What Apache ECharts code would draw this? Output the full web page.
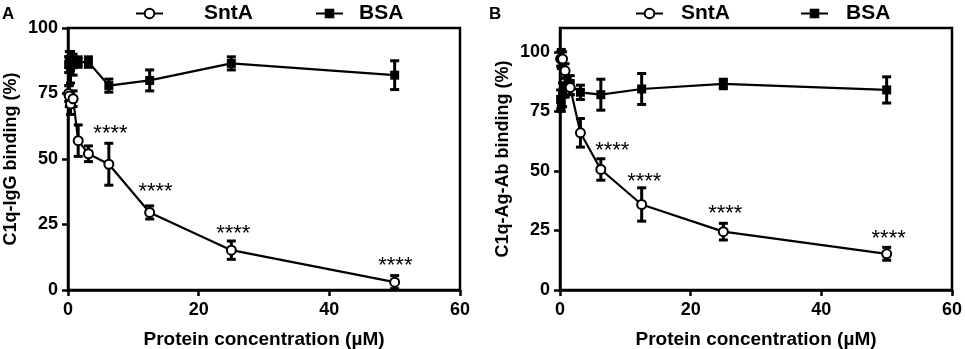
<!DOCTYPE html>
<html><head><meta charset="utf-8">
<script src="https://cdn.jsdelivr.net/npm/echarts@6/dist/echarts.min.js"></script>
<style>html,body{margin:0;padding:0;background:#fff}#c{width:965px;height:349px}</style>
</head><body><div id="c"></div>
<script>
// ---- data ----
const conc = [0.1, 0.2, 0.39, 0.78, 1.56, 3.125, 6.25, 12.5, 25, 50];
const aSntA = [75, 74, 71, 73, 57, 52, 48, 29.6, 15.2, 3];
const aSntAErr = [3, 4, 4, 3, 6, 3, 8, 2.5, 3.5, 2.5];
const aBSA = [86, 88, 85, 86, 87, 87, 78, 80, 86.5, 82];
const aBSAErr = [3, 3, 6, 4, 2, 2, 2.5, 4, 2.5, 5.5];
const bSntA = [97, 97, 97, 92, 85, 66, 50.6, 35.9, 24.5, 15.2];
const bSntAErr = [3, 4, 3, 3, 3, 6, 4.5, 7, 3.5, 2.7];
const bBSA = [80, 78, 82, 85, 86, 83, 82, 84.4, 86.5, 84];
const bBSAErr = [4, 3, 5, 4, 4, 3, 6.5, 6.5, 2, 5.5];
const aStarX = [6.5, 13.4, 25.3, 50.1];
const aStarY = [59.5, 37.4, 21.4, 9.2];
const bStarX = [8.0, 12.9, 25.3, 50.3];
const bStarY = [58.2, 45.4, 32.0, 21.5];
const starText = '****';
const yTicks = [0, 25, 50, 75, 100];
const seriesNames = ['SntA', 'BSA'];
const panelLabels = ['A', 'B'];
const xTitle = 'Protein concentration (µM)';
const yTitles = ['C1q-IgG binding (%)', 'C1q-Ag-Ab binding (%)'];

const FONT = 'Liberation Sans, Arial, sans-serif';
const zip = (xs, ys) => xs.map((x, i) => [x, ys[i]]);
const zip3 = (xs, ys, es) => xs.map((x, i) => [x, ys[i], es[i]]);

function errRender(params, api) {
  const x = api.value(0), y = api.value(1), e = api.value(2);
  const lo = api.coord([x, y - e]), hi = api.coord([x, y + e]);
  const w = 4.5;
  const st = {stroke: '#000', lineWidth: 3};
  return {type: 'group', children: [
    {type: 'line', shape: {x1: lo[0], y1: lo[1], x2: hi[0], y2: hi[1]}, style: st},
    {type: 'line', shape: {x1: lo[0] - w, y1: lo[1], x2: lo[0] + w, y2: lo[1]}, style: st},
    {type: 'line', shape: {x1: hi[0] - w, y1: hi[1], x2: hi[0] + w, y2: hi[1]}, style: st}
  ]};
}
function starRender(params, api) {
  const p = api.coord([api.value(0), api.value(1)]);
  return {type: 'text', x: p[0], y: p[1], style: {text: starText, align: 'center', verticalAlign: 'middle',
    font: 'normal 22px ' + FONT, fill: '#000'}};
}

const axisLine = {show: true, onZero: false, lineStyle: {color: '#000', width: 2.5}};
const axisTick = {show: true, inside: false, length: 6, lineStyle: {color: '#000', width: 2.5}};
const lab = {color: '#000', fontFamily: FONT, fontWeight: 'bold', fontSize: 18};

function xAx(i) {
  return {type: 'value', gridIndex: i, min: 0, max: 60, interval: 20, axisLine, axisTick,
    axisLabel: Object.assign({margin: 11}, lab), splitLine: {show: false},
    name: xTitle, nameLocation: 'middle', nameGap: 40,
    nameTextStyle: {color: '#000', fontFamily: FONT, fontWeight: 'bold', fontSize: 19}};
}
function yAx(i, max) {
  return {type: 'value', gridIndex: i, min: 0, max: max, interval: 25, axisLine,
    axisTick: Object.assign({customValues: yTicks}, axisTick),
    axisLabel: Object.assign({margin: 10, customValues: yTicks}, lab), splitLine: {show: false},
    name: yTitles[i], nameLocation: 'middle', nameGap: 48,
    nameTextStyle: {color: '#000', fontFamily: FONT, fontWeight: 'bold', fontSize: 18}};
}
function lineS(name, i, ys) {
  const circ = name === 'SntA';
  return {type: 'line', name, xAxisIndex: i, yAxisIndex: i, data: zip(conc, ys),
    symbol: circ ? 'emptyCircle' : 'rect', symbolSize: 9, showAllSymbol: true,
    lineStyle: {color: '#000', width: 2.2}, itemStyle: {color: '#000', borderColor: '#000', borderWidth: circ ? 2.2 : 0},
    z: circ ? 4 : 3, animation: false};
}
function errS(i, ys, es) {
  return {type: 'custom', xAxisIndex: i, yAxisIndex: i, data: zip3(conc, ys, es), renderItem: errRender, z: 2, animation: false, silent: true};
}
function starS(i, xs, ys) {
  return {type: 'custom', xAxisIndex: i, yAxisIndex: i, data: zip(xs, ys), renderItem: starRender, z: 5, animation: false, silent: true};
}
function leg(name, left, pad) {
  return {data: [name], left, top: 3, padding: 0, itemWidth: 27, itemHeight: 12, selectedMode: false,
    textStyle: {color: '#000', fontFamily: FONT, fontWeight: 'bold', fontSize: 21, padding: [0, 0, 0, pad]}};
}

const grid = {show: true, borderColor: '#000', borderWidth: 2.5, backgroundColor: 'transparent', containLabel: false, outerBoundsMode: 'none'};
const chart = echarts.init(document.getElementById('c'), null, {renderer: 'canvas'});
chart.setOption({
  animation: false,
  backgroundColor: '#fff',
  grid: [
    Object.assign({left: 68, top: 28, right: 505, bottom: 59}, grid),
    Object.assign({left: 560, top: 28, right: 13, bottom: 59}, grid)
  ],
  legend: [leg(seriesNames[0], 135, 36), leg(seriesNames[1], 315, 11), leg(seriesNames[0], 635, 13), leg(seriesNames[1], 800, 13)],
  xAxis: [xAx(0), xAx(1)],
  yAxis: [yAx(0, 100), yAx(1, 110)],
  graphic: [
    {type: 'text', left: 2, top: 6, style: {text: panelLabels[0], font: 'bold 17px ' + FONT, fill: '#000'}},
    {type: 'text', left: 489, top: 6, style: {text: panelLabels[1], font: 'bold 17px ' + FONT, fill: '#000'}}
  ],
  series: [
    errS(0, aBSA, aBSAErr), lineS(seriesNames[1], 0, aBSA),
    errS(0, aSntA, aSntAErr), lineS(seriesNames[0], 0, aSntA),
    starS(0, aStarX, aStarY),
    errS(1, bBSA, bBSAErr), lineS(seriesNames[1], 1, bBSA),
    errS(1, bSntA, bSntAErr), lineS(seriesNames[0], 1, bSntA),
    starS(1, bStarX, bStarY)
  ]
});
</script></body></html>
